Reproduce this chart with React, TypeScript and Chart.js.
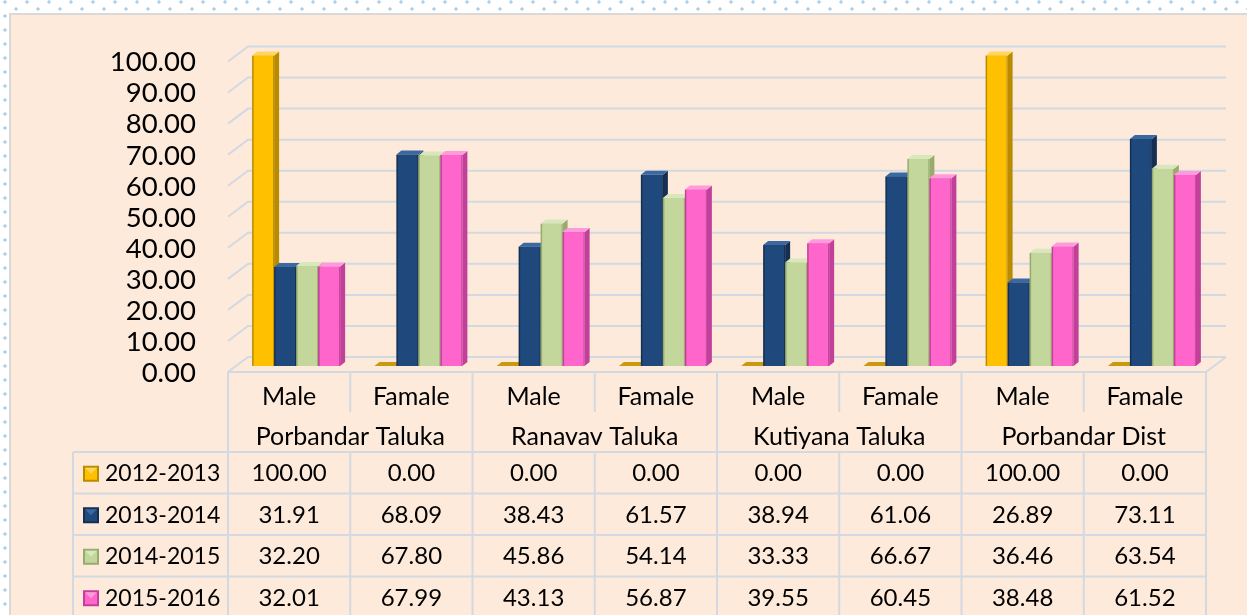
import React, { useEffect, useRef } from "react";
import { Chart, registerables } from "chart.js";

Chart.register(...registerables);

// ---- data ----
const categories = ["Male", "Famale", "Male", "Famale", "Male", "Famale", "Male", "Famale"];
const groups = ["Porbandar Taluka", "Ranavav Taluka", "Kutiyana Taluka", "Porbandar Dist"];
const seriesNames = ["2012-2013", "2013-2014", "2014-2015", "2015-2016"];
const s2012 = [100.0, 0.0, 0.0, 0.0, 0.0, 0.0, 100.0, 0.0];
const s2013 = [31.91, 68.09, 38.43, 61.57, 38.94, 61.06, 26.89, 73.11];
const s2014 = [32.2, 67.8, 45.86, 54.14, 33.33, 66.67, 36.46, 63.54];
const s2015 = [32.01, 67.99, 43.13, 56.87, 39.55, 60.45, 38.48, 61.52];
const seriesValues = [s2012, s2013, s2014, s2015];
const yMin = 0;
const yMax = 100;
const yStep = 10;

// ---- styles ----
const palette = [
  { front: "#FFC000", side: "#B98C00", top: "#FFD659", flat: "#C99A10" },
  { front: "#1F497D", side: "#142F52", top: "#3B68A0", flat: "#1A3D68" },
  { front: "#C3D69B", side: "#97AC6C", top: "#D9E7BC", flat: "#A9BF7E" },
  { front: "#FF66CC", side: "#C2409A", top: "#FF9BDD", flat: "#D84FAE" },
];
const FONT = "Lato, 'Open Sans', sans-serif";
const GRID = "#D2D9E1";
const FRONT_DX = -7;
const FRONT_DY = 6;
const BACK_DX = 13;
const BACK_DY = -9;
const DX = 5;
const DY = 4;

const threeD = {
  id: "threeD",
  beforeDatasetsDraw(chart: any) {
    const ctx = chart.ctx;
    const y = chart.scales.y;
    const ca = chart.chartArea;
    ctx.save();
    ctx.strokeStyle = GRID;
    ctx.lineWidth = 2;
    for (let v = yMin; v <= yMax; v += yStep) {
      const py = y.getPixelForValue(v);
      ctx.beginPath();
      ctx.moveTo(ca.left + FRONT_DX, py + FRONT_DY);
      ctx.lineTo(ca.left + BACK_DX, py + BACK_DY);
      ctx.lineTo(ca.right + BACK_DX, py + BACK_DY);
      ctx.stroke();
    }
    const p0 = y.getPixelForValue(0);
    ctx.beginPath();
    ctx.moveTo(ca.left + FRONT_DX, p0 + FRONT_DY);
    ctx.lineTo(ca.right + FRONT_DX, p0 + FRONT_DY);
    ctx.lineTo(ca.right + BACK_DX, p0 + BACK_DY);
    ctx.stroke();
    ctx.restore();
  },
  afterDatasetsDraw(chart: any) {
    const ctx = chart.ctx;
    ctx.save();
    for (let d = 0; d < chart.data.datasets.length; d++) {
      const meta = chart.getDatasetMeta(d);
      const col = palette[d];
      meta.data.forEach((el: any, i: number) => {
        const v = chart.data.datasets[d].data[i];
        const l = el.x - el.width / 2;
        const r = el.x + el.width / 2;
        const top = el.y;
        const base = el.base;
        if (v > 0) {
          ctx.fillStyle = col.side;
          ctx.fillRect(l, top, r - l, base - top);
          ctx.fillStyle = col.front;
          ctx.fillRect(l + 1.5, top, r - l - 2.5, base - top);
          ctx.fillStyle = col.side;
          ctx.beginPath();
          ctx.moveTo(r, top);
          ctx.lineTo(r + DX, top - DY);
          ctx.lineTo(r + DX, base - DY);
          ctx.lineTo(r, base);
          ctx.closePath();
          ctx.fill();
          ctx.fillStyle = col.top;
          ctx.beginPath();
          ctx.moveTo(l, top);
          ctx.lineTo(l + DX, top - DY);
          ctx.lineTo(r + DX, top - DY);
          ctx.lineTo(r, top);
          ctx.closePath();
          ctx.fill();
        } else {
          ctx.fillStyle = col.flat;
          ctx.beginPath();
          ctx.moveTo(l, base);
          ctx.lineTo(l + DX, base - DY);
          ctx.lineTo(r + DX, base - DY);
          ctx.lineTo(r, base);
          ctx.closePath();
          ctx.fill();
        }
      });
    }
    ctx.restore();
  },
  afterDraw(chart: any) {
    const ctx = chart.ctx;
    const x = chart.scales.x;
    const y = chart.scales.y;
    const n = categories.length;
    const cw = (chart.chartArea.right - chart.chartArea.left) / n;
    const centers = categories.map((_, i) => x.getPixelForValue(i) + FRONT_DX);
    const left = centers[0] - cw / 2;
    const right = centers[n - 1] + cw / 2;
    const top = y.getPixelForValue(0) + FRONT_DY;
    const hdr1 = top + 40;
    const dataTop = top + 80;
    const rowH = 41.5;
    const legLeft = 73;
    const bottom = dataTop + rowH * 4;
    ctx.save();
    ctx.strokeStyle = GRID;
    ctx.lineWidth = 2;
    const line = (x1: number, y1: number, x2: number, y2: number) => {
      ctx.beginPath();
      ctx.moveTo(x1, y1);
      ctx.lineTo(x2, y2);
      ctx.stroke();
    };
    for (let r = 0; r <= 4; r++) line(legLeft, dataTop + r * rowH, right, dataTop + r * rowH);
    line(legLeft, dataTop, legLeft, bottom);
    for (let i = 0; i <= n; i++) {
      const bx = left + i * cw;
      if (i % 2 === 0) line(bx, top, bx, bottom);
      else {
        line(bx, top, bx, hdr1);
        line(bx, dataTop, bx, bottom);
      }
    }
    ctx.fillStyle = "#000";
    ctx.textAlign = "center";
    ctx.textBaseline = "middle";
    ctx.font = `25px ${FONT}`;
    categories.forEach((c, i) => ctx.fillText(c, centers[i], top + 25));
    groups.forEach((g, i) => ctx.fillText(g, (centers[2 * i] + centers[2 * i + 1]) / 2, top + 65));
    ctx.font = `24px ${FONT}`;
    seriesValues.forEach((vals, r) => {
      const cy = dataTop + rowH * r + rowH / 2 + 1;
      vals.forEach((v, i) => ctx.fillText(v.toFixed(2), centers[i], cy));
    });
    ctx.textAlign = "left";
    ctx.font = `23px ${FONT}`;
    seriesNames.forEach((s, r) => {
      const cy = dataTop + rowH * r + rowH / 2 + 1;
      const col = palette[r];
      const mx = 83;
      const my = cy - 8;
      const ms = 16;
      ctx.fillStyle = col.side;
      ctx.fillRect(mx, my, ms, ms);
      ctx.fillStyle = col.front;
      ctx.fillRect(mx + 2, my + 2, ms - 4, ms - 4);
      ctx.fillStyle = col.top;
      ctx.beginPath();
      ctx.moveTo(mx + 2, my + 2);
      ctx.lineTo(mx + ms - 2, my + 2);
      ctx.lineTo(mx + ms / 2, my + ms / 2);
      ctx.closePath();
      ctx.fill();
      ctx.fillStyle = "#000";
      ctx.fillText(s, 105, cy);
    });
    ctx.restore();
  },
};

export default function App() {
  const ref = useRef<HTMLCanvasElement | null>(null);
  useEffect(() => {
    document.body.style.margin = "0";
    const canvas = ref.current;
    if (!canvas) return;
    const chart = new Chart(canvas, {
      type: "bar",
      data: {
        labels: categories,
        datasets: seriesNames.map((name, i) => ({
          label: name,
          data: seriesValues[i],
          backgroundColor: "rgba(0,0,0,0)",
          borderWidth: 0,
          categoryPercentage: 0.72,
          barPercentage: 1.0,
        })),
      },
      options: {
        responsive: false,
        animation: false,
        events: [],
        layout: { padding: { left: 0, top: 54, right: 34, bottom: 249 } },
        plugins: { legend: { display: false }, tooltip: { enabled: false }, title: { display: false } },
        scales: {
          x: { type: "category", display: false, offset: true },
          y: {
            min: yMin,
            max: yMax,
            grid: { display: false, drawTicks: false },
            border: { display: false },
            afterFit: (scale: any) => {
              scale.width = 235;
            },
            ticks: {
              stepSize: yStep,
              autoSkip: false,
              padding: 39,
              labelOffset: 7,
              color: "#000",
              font: { family: FONT, size: 27.5 },
              callback: (v: any) => Number(v).toFixed(2),
            },
          },
        },
      },
      plugins: [threeD],
    });
    return () => chart.destroy();
  }, []);

  return (
    <div
      style={{
        position: "fixed",
        left: 0,
        top: 0,
        width: 1247,
        height: 615,
        overflow: "hidden",
        backgroundColor: "#fff",
        backgroundImage:
          "radial-gradient(circle, #A9D0EA 1.3px, rgba(255,255,255,0) 2px), radial-gradient(circle, #A9D0EA 1.3px, rgba(255,255,255,0) 2px)",
        backgroundSize: "22px 14px, 22px 14px",
        backgroundPosition: "-6px -5px, 5px 2px",
      }}
    >
      <div
        style={{
          position: "absolute",
          left: 9,
          top: 13,
          width: 1250,
          height: 620,
          background: "#FDEADB",
          border: "2px solid #D9D9D9",
          boxSizing: "border-box",
        }}
      />
      <canvas ref={ref} width={1247} height={615} style={{ position: "absolute", left: 0, top: 0, display: "block" }} />
    </div>
  );
}
